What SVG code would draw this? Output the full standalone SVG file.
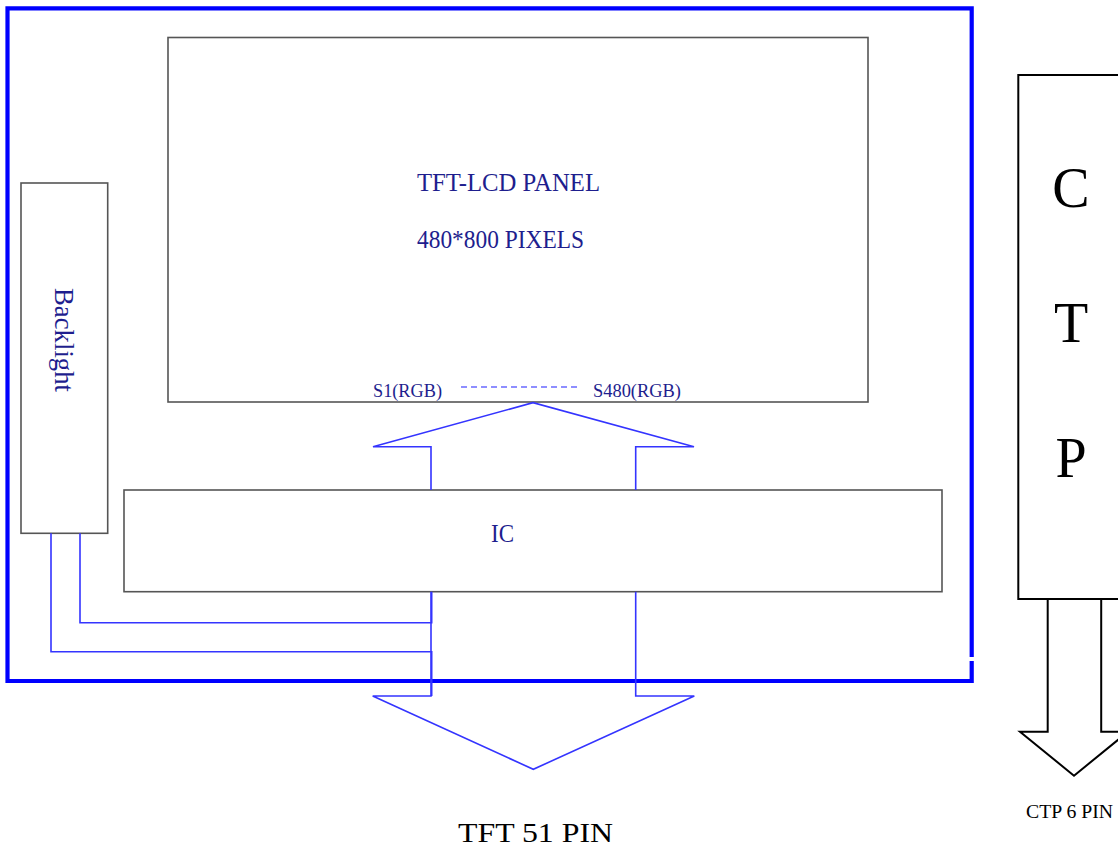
<svg xmlns="http://www.w3.org/2000/svg" width="1118" height="850" viewBox="0 0 1118 850">
<style>
.box{fill:#fff;stroke:#555;stroke-width:1.6}
.ctp{fill:#fff;stroke:#000;stroke-width:2}
.conn{fill:none;stroke:#3434ff;stroke-width:1.6;stroke-linejoin:miter}
.ctpconn{fill:none;stroke:#000;stroke-width:2}
.lbl{font-family:"Liberation Serif","Times New Roman",serif;fill:#1e1e8e}
.blk{font-family:"Liberation Serif","Times New Roman",serif;fill:#000}
</style>
<rect width="1118" height="850" fill="#fff"/>
<g id="module-border">
<path d="M971.7,657 V8.3 H7.5 V681 H971.7 V661" fill="none" stroke="#0000ff" stroke-width="4.2"/>
</g>
<g id="panel">
<rect class="box" x="168" y="37.5" width="700" height="364.5"/>
<text class="lbl" x="417" y="191" font-size="25" textLength="183" lengthAdjust="spacingAndGlyphs">TFT-LCD PANEL</text>
<text class="lbl" x="417" y="248" font-size="25" textLength="167" lengthAdjust="spacingAndGlyphs">480*800 PIXELS</text>
<text class="lbl" x="373" y="397" font-size="19" textLength="69" lengthAdjust="spacingAndGlyphs">S1(RGB)</text>
<text class="lbl" x="593" y="397" font-size="19" textLength="88" lengthAdjust="spacingAndGlyphs">S480(RGB)</text>
<line x1="461" y1="387" x2="579" y2="387" stroke="#6a6aff" stroke-width="1.6" stroke-dasharray="6,4"/>
</g>
<g id="backlight">
<rect class="box" x="21" y="183" width="86.7" height="350.3"/>
<text class="lbl" transform="translate(55,288) rotate(90)" font-size="27" textLength="104" lengthAdjust="spacingAndGlyphs">Backlight</text>
</g>
<g id="ic">
<rect class="box" x="124" y="490" width="818" height="101.7"/>
<text class="lbl" x="491" y="542" font-size="25" textLength="23" lengthAdjust="spacingAndGlyphs">IC</text>
</g>
<g id="ctp">
<rect class="ctp" x="1018.3" y="75" width="110" height="524"/>
<text class="blk" x="1071" y="207" font-size="56" text-anchor="middle">C</text>
<text class="blk" x="1071" y="342" font-size="56" text-anchor="middle">T</text>
<text class="blk" x="1071" y="477" font-size="56" text-anchor="middle">P</text>
</g>
<g id="connectors">
<path class="conn" d="M431,490 V446.7 H373 L533,402.7 L694,446.7 H635.7 V490"/>
<path class="conn" d="M431,591.7 V696 H372.7 L533.3,769.3 L694.3,696 H635.7 V591.7"/>
<path class="conn" d="M80,533.3 V622.7 H431.7 V591.7"/>
<path class="conn" d="M51,533.3 V651.7 H431.7 V696"/>
<path class="ctpconn" d="M1047.7,599 V731.7 H1020 L1074,775.7 L1128,731.7 H1101.2 V599"/>
</g>
<g id="labels">
<text class="blk" x="458" y="842" font-size="27" textLength="155" lengthAdjust="spacingAndGlyphs">TFT 51 PIN</text>
<text class="blk" x="1026" y="818" font-size="19" textLength="87" lengthAdjust="spacingAndGlyphs">CTP 6 PIN</text>
</g>
</svg>
